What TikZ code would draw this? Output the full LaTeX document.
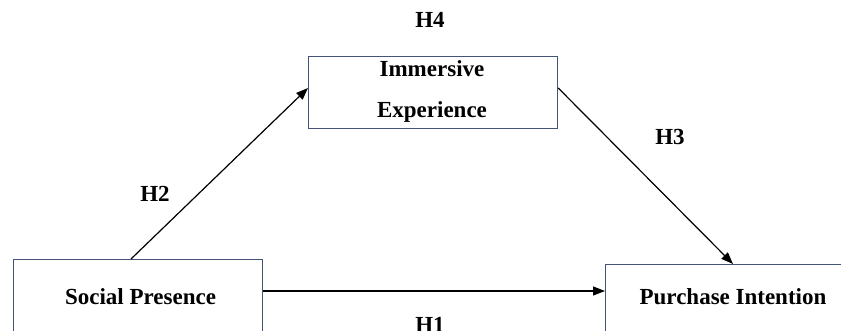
\documentclass[tikz,border=0pt]{standalone}
\usepackage{fontspec}
\setmainfont{Liberation Serif}
\usetikzlibrary{arrows.meta}
\definecolor{boxline}{RGB}{68,84,120}
\begin{document}
\begin{tikzpicture}[x=1pt,y=-1pt,
  box/.style={draw=boxline,line width=1.2pt,inner sep=0pt,anchor=north west},
  lbl/.style={font=\fontsize{23}{27}\selectfont\bfseries,anchor=base,inner sep=0pt},
  arr/.style={line width=1.2pt,-{Triangle[length=12pt,width=9pt]}}]
\useasboundingbox (0,0) rectangle (841,331);
\clip (0,0) rectangle (841,331);
\node[box,minimum width=249pt,minimum height=100pt] (sp) at (13,259) {};
\node[box,minimum width=260pt,minimum height=100pt] (pi) at (605,264) {};
\node[box,minimum width=249pt,minimum height=72pt] (ie) at (308,56) {};
\node[lbl] (tsp) at (140.5,305) {Social Presence};
\node[lbl] (tpi) at (733,305) {Purchase Intention};
\node[lbl] (tie1) at (432,77) {Immersive};
\node[lbl] (tie2) at (432,118) {Experience};
\node[lbl] (h4) at (430,28) {H4};
\node[lbl] (h2) at (155,202) {H2};
\node[lbl] (h3) at (670,145) {H3};
\node[lbl] (h1) at (430,332) {H1};
\draw[arr] ([xshift=118pt]sp.north west) -- ([yshift=-32pt]ie.north west);
\draw[arr] ([yshift=-32pt]ie.north east) -- ([xshift=128pt]pi.north west);
\draw[arr] ([yshift=-32pt]sp.north east) -- ([yshift=-27pt]pi.north west);
\end{tikzpicture}
\end{document}
